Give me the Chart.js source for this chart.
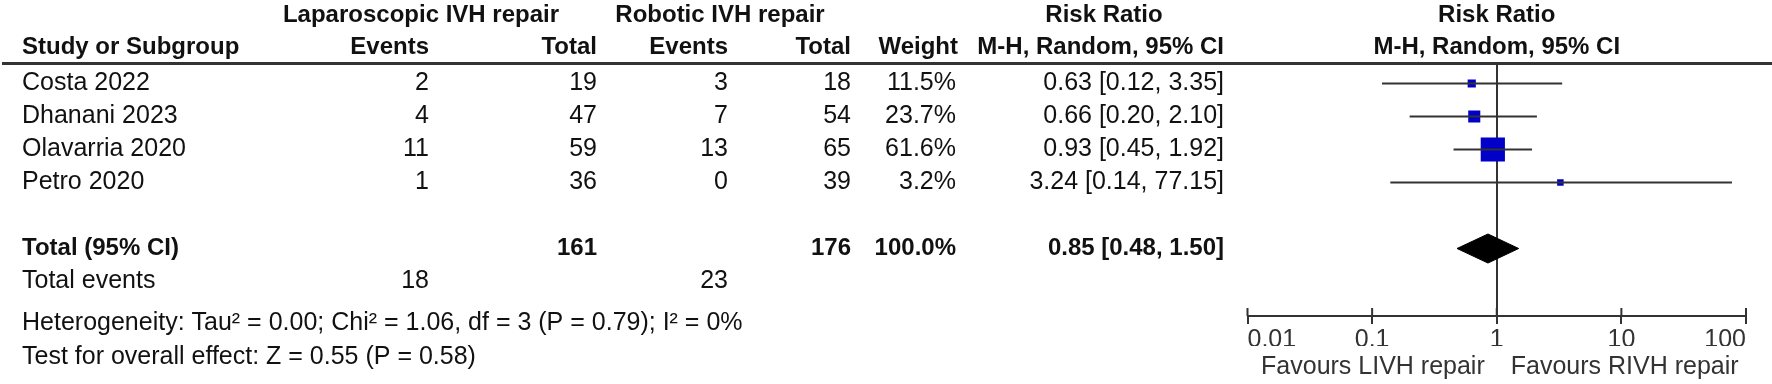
<!DOCTYPE html>
<html>
<head>
<meta charset="utf-8">
<script src="https://cdn.jsdelivr.net/npm/chart.js@4.4.1/dist/chart.umd.min.js"></script>
<style>
  html, body { margin: 0; padding: 0; background: #fff; }
  #wrap { width: 1772px; height: 384px; }
</style>
</head>
<body>
<div id="wrap"><canvas id="forest" width="1772" height="384"></canvas></div>
<script>
// study rows
var studies = ['Costa 2022', 'Dhanani 2023', 'Olavarria 2020', 'Petro 2020'];
var lapEvents = [2, 4, 11, 1];
var lapTotal = [19, 47, 59, 36];
var robEvents = [3, 7, 13, 0];
var robTotal = [18, 54, 65, 39];
var weights = [11.5, 23.7, 61.6, 3.2];
var riskRatio = [0.63, 0.66, 0.93, 3.24];
var ciLow = [0.12, 0.20, 0.45, 0.14];
var ciHigh = [3.35, 2.10, 1.92, 77.15];

// pooled result: [estimate, lower, upper]
var pooled = [0.85, 0.48, 1.50];
var totals = [161, 176];          // lap, robotic
var totalEvents = [18, 23];       // lap, robotic
var totalWeight = 100.0;

var heterogeneity = 'Heterogeneity: Tau\u00b2 = 0.00; Chi\u00b2 = 1.06, df = 3 (P = 0.79); I\u00b2 = 0%';
var overallTest = 'Test for overall effect: Z = 0.55 (P = 0.58)';

// axis
var tickValues = [0.01, 0.1, 1, 10, 100];
var tickLabels = ['0.01', '0.1', '1', '10', '100'];
var favours = ['Favours LIVH repair', 'Favours RIVH repair'];

var FONT = '"Liberation Sans", Arial, sans-serif';
var TEXT = '#111';
var GREY = '#333';
var TOTAL_ROW = 5;

function fmt2(v) { return v.toFixed(2); }
function ciText(est, lo, hi) { return fmt2(est) + ' [' + fmt2(lo) + ', ' + fmt2(hi) + ']'; }

// square side grows with weight
function squareRadius(w) {
    var side = Math.max(6.5, 4.5 + 0.32 * w);
    return side / Math.SQRT2;
}

var datasets = [];

// confidence interval lines
studies.forEach(function(name, i) {
    datasets.push({
        data: [{ x: ciLow[i], y: i }, { x: ciHigh[i], y: i }],
        showLine: true,
        borderColor: GREY,
        borderWidth: 2,
        pointRadius: 0
    });
});

// weighted squares
datasets.push({
    data: riskRatio.map(function(v, i) { return { x: v, y: i }; }),
    pointStyle: 'rect',
    pointRadius: weights.map(squareRadius),
    backgroundColor: '#0000c8',
    borderWidth: 0
});

// pooled diamond: top edge, then bottom edge filled to it
var dh = 0.44;
datasets.push({
    data: [{ x: pooled[1], y: TOTAL_ROW }, { x: pooled[0], y: TOTAL_ROW - dh }, { x: pooled[2], y: TOTAL_ROW }],
    showLine: true,
    borderColor: '#000',
    borderWidth: 1,
    pointRadius: 0
});
datasets.push({
    data: [{ x: pooled[1], y: TOTAL_ROW }, { x: pooled[0], y: TOTAL_ROW + dh }, { x: pooled[2], y: TOTAL_ROW }],
    showLine: true,
    borderColor: '#000',
    borderWidth: 1,
    pointRadius: 0,
    fill: '-1',
    backgroundColor: '#000'
});

// table text, header rule, upper half of tick marks, favours labels
var tablePlugin = {
    id: 'table',
    afterDraw: function(chart) {
        var ctx = chart.ctx;
        var ys = chart.scales.y;
        var xs = chart.scales.x;
        var area = chart.chartArea;

        function put(text, px, row, align, bold, color) {
            ctx.font = bold ? 'bold 24px ' + FONT : '25px ' + FONT;
            ctx.fillStyle = color || TEXT;
            ctx.textAlign = align;
            ctx.textBaseline = 'middle';
            ctx.fillText(text, px, ys.getPixelForValue(row));
        }

        ctx.save();

        // header rule
        ctx.strokeStyle = GREY;
        ctx.lineWidth = 3;
        ctx.beginPath();
        ctx.moveTo(2, area.top);
        ctx.lineTo(1772, area.top);
        ctx.stroke();

        // ticks cross the axis line
        ctx.lineWidth = 2;
        tickValues.forEach(function(v) {
            var px = xs.getPixelForValue(v);
            ctx.beginPath();
            ctx.moveTo(px, area.bottom - 8);
            ctx.lineTo(px, area.bottom);
            ctx.stroke();
        });

        var mid = xs.getPixelForValue(1);

        // header rows
        var h1 = -2.05, h2 = -1.08;
        put('Laparoscopic IVH repair', 421, h1, 'center', true);
        put('Robotic IVH repair', 720, h1, 'center', true);
        put('Risk Ratio', 1104, h1, 'center', true);
        put('Risk Ratio', mid, h1, 'center', true);
        put('Study or Subgroup', 22, h2, 'left', true);
        put('Events', 429, h2, 'right', true);
        put('Total', 597, h2, 'right', true);
        put('Events', 728, h2, 'right', true);
        put('Total', 851, h2, 'right', true);
        put('Weight', 958, h2, 'right', true);
        put('M-H, Random, 95% CI', 1224, h2, 'right', true);
        put('M-H, Random, 95% CI', mid, h2, 'center', true);

        // study rows
        studies.forEach(function(name, i) {
            put(name, 22, i, 'left');
            put(String(lapEvents[i]), 429, i, 'right');
            put(String(lapTotal[i]), 597, i, 'right');
            put(String(robEvents[i]), 728, i, 'right');
            put(String(robTotal[i]), 851, i, 'right');
            put(weights[i].toFixed(1) + '%', 956, i, 'right');
            put(ciText(riskRatio[i], ciLow[i], ciHigh[i]), 1224, i, 'right');
        });

        // total row
        put('Total (95% CI)', 22, TOTAL_ROW, 'left', true);
        put(String(totals[0]), 597, TOTAL_ROW, 'right', true);
        put(String(totals[1]), 851, TOTAL_ROW, 'right', true);
        put(totalWeight.toFixed(1) + '%', 956, TOTAL_ROW, 'right', true);
        put(ciText(pooled[0], pooled[1], pooled[2]), 1224, TOTAL_ROW, 'right', true);

        put('Total events', 22, 6, 'left');
        put(String(totalEvents[0]), 429, 6, 'right');
        put(String(totalEvents[1]), 728, 6, 'right');
        put(heterogeneity, 22, 7.25, 'left');
        put(overallTest, 22, 8.3, 'left');

        // favours labels under the axis
        put(favours[0], mid - 12, 8.6, 'right', false, GREY);
        put(favours[1], mid + 14, 8.6, 'left', false, GREY);

        ctx.restore();
    }
};

new Chart(document.getElementById('forest'), {
    type: 'scatter',
    data: { datasets: datasets },
    options: {
        responsive: false,
        animation: false,
        events: [],
        layout: { padding: { left: 1247.5, right: 26, top: 63.5, bottom: 38 } },
        plugins: { legend: { display: false }, tooltip: { enabled: false }, title: { display: false } },
        scales: {
            x: {
                type: 'logarithmic',
                min: 0.01,
                max: 100,
                afterBuildTicks: function(scale) {
                    scale.ticks = tickValues.map(function(v) { return { value: v }; });
                },
                afterFit: function(scale) {
                    scale.height = 30;
                    scale.paddingLeft = 0;
                    scale.paddingRight = 0;
                },
                border: { display: true, color: GREY, width: 2 },
                grid: {
                    drawOnChartArea: true,
                    color: function(c) { return c.tick && c.tick.value === 1 ? GREY : 'rgba(0,0,0,0)'; },
                    lineWidth: 2,
                    tickColor: GREY,
                    tickWidth: 2,
                    tickLength: 8
                },
                ticks: {
                    align: 'inner',
                    autoSkip: false,
                    maxRotation: 0,
                    padding: 1,
                    color: GREY,
                    font: { family: FONT, size: 25, lineHeight: 1.2 },
                    callback: function(v) {
                        var k = tickValues.indexOf(v);
                        return k >= 0 ? tickLabels[k] : '';
                    }
                }
            },
            y: {
                type: 'linear',
                display: false,
                reverse: true,
                min: -0.606,
                max: 7.045
            }
        }
    },
    plugins: [tablePlugin]
});
</script>
</body>
</html>
